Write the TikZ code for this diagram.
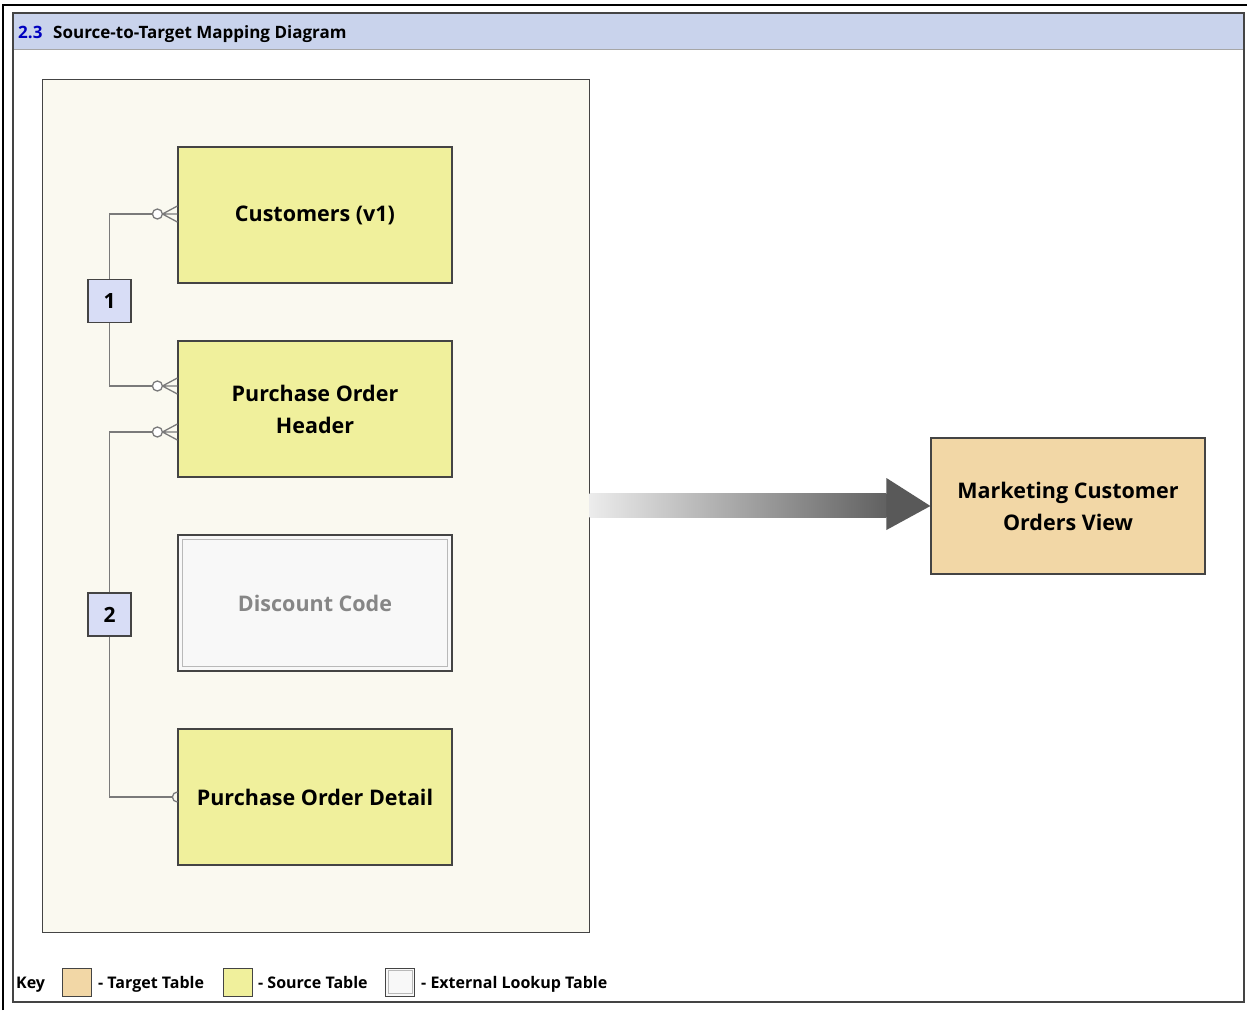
\documentclass[tikz,border=0pt]{standalone}
\usepackage{fontspec}
\setmainfont{Open Sans}
\usetikzlibrary{calc}
\definecolor{barblue}{HTML}{C9D3EC}
\definecolor{numblue}{HTML}{D8DDF6}
\definecolor{panelcream}{HTML}{FAF9F0}
\definecolor{srcyellow}{HTML}{F0F09C}
\definecolor{tgtwheat}{HTML}{F2D7A6}
\definecolor{lookupgray}{HTML}{F8F8F8}
\definecolor{linkgray}{HTML}{7A7A7A}
\definecolor{edgegray}{HTML}{444444}
\tikzset{
  table/.style={draw=edgegray, line width=1.2pt, minimum width=274pt, minimum height=136pt,
    align=center, font=\fontsize{21.5}{32}\selectfont\bfseries},
  src/.style={table, fill=srcyellow},
  tgt/.style={table, fill=tgtwheat},
  lookup/.style={table, fill=lookupgray, text=gray!95},
  numbox/.style={draw=edgegray, line width=1.2pt, fill=numblue, minimum size=43pt,
    font=\fontsize{21}{22}\selectfont\bfseries},
  link/.style={draw=linkgray, line width=1.3pt},
  keytext/.style={anchor=base west, inner sep=0pt, font=\fontsize{16}{17}\selectfont\bfseries},
  swatch/.style={draw=edgegray, line width=1pt, minimum width=29pt, minimum height=28pt, inner sep=0pt}
}
\begin{document}
\begin{tikzpicture}[x=1pt, y=-1pt]
\useasboundingbox (0,0) rectangle (1247,1010);
\fill[white] (0,0) rectangle (1247,1010);
% frame and title bar
\draw[black, line width=2pt] (3,1010) -- (3,5) -- (1247,5);
\filldraw[fill=barblue, draw=gray!70, line width=1pt] (13,13) rectangle (1244,49);
\draw[edgegray, line width=1.2pt] (13,13) rectangle (1244,1002);
\node[keytext, font=\fontsize{17}{18}\selectfont\bfseries, text=blue!75!black] (num) at (18,38.5) {2.3};
\node[keytext, font=\fontsize{17}{18}\selectfont\bfseries] (title) at (53,38.5) {Source-to-Target Mapping Diagram};
% source area
\node[draw=edgegray, line width=1pt, fill=panelcream, minimum width=547pt, minimum height=853pt] (area) at (315.5,505.5) {};
\node[src] (cust) at (315,215) {Customers (v1)};
\node[src] (poh) at (315,409) {Purchase Order\\Header};
\node[lookup] (disc) at (315,603) {Discount Code};
\draw[gray!55, line width=1pt] ([shift={(5pt,-5pt)}]disc.north west) rectangle ([shift={(-5pt,5pt)}]disc.south east);
\node[src] (pod) at (315,797) {Purchase Order Detail};
\node[numbox] (one) at (109.5,301) {1};
\node[numbox] (two) at (109.5,614.5) {2};
% joins
\coordinate (custjoin) at (cust.west |- 0,214);
\coordinate (pohjoina) at (poh.west |- 0,386);
\coordinate (pohjoinb) at (poh.west |- 0,432);
\coordinate (podjoin) at (pod.west |- 0,797);
\draw[link] (one.north) |- ([xshift=-25pt]custjoin);
\draw[link] (one.south) |- ([xshift=-25pt]pohjoina);
\draw[link] (two.north) |- ([xshift=-25pt]pohjoinb);
\draw[link] (two.south) |- ([xshift=-5pt]podjoin);
\foreach \j in {custjoin, pohjoina, pohjoinb}{
  \draw[link, fill=white] ([xshift=-20pt]\j) circle (5pt);
  \draw[link] ([xshift=-15pt]\j) -- (\j)
    ([xshift=-15pt]\j) -- ([yshift=8pt]\j)
    ([xshift=-15pt]\j) -- ([yshift=-8pt]\j);
}
\draw[link, fill=white] ([xshift=-5pt]podjoin) arc[start angle=180, end angle=90, radius=5pt]
  ([xshift=-5pt]podjoin) arc[start angle=180, end angle=270, radius=5pt];
\node[tgt] (mcov) at (1068,506) {Marketing Customer\\Orders View};
% mapping arrow
\shade[left color=gray!15, right color=black!62]
  ([yshift=12.5pt]area.east) rectangle ([xshift=-44pt, yshift=-11.5pt]mcov.west);
\fill[black!65]
  ([xshift=-44pt, yshift=28pt]mcov.west) -- (mcov.west)
  -- ([xshift=-44pt, yshift=-24pt]mcov.west) -- cycle;
% key
\node[keytext] (key) at (16,988) {Key};
\node[swatch, fill=tgtwheat] (keytgt) at (76.5,982) {};
\node[keytext] (keytgttext) at (98,988) {- Target Table};
\node[swatch, fill=srcyellow] (keysrc) at (237.5,982) {};
\node[keytext] (keysrctext) at (258,988) {- Source Table};
\node[swatch, fill=lookupgray] (keylkp) at (400,982) {};
\draw[gray!55, line width=0.8pt] ([shift={(3pt,-3pt)}]keylkp.north west) rectangle ([shift={(-3pt,3pt)}]keylkp.south east);
\node[keytext] (keylkptext) at (421,988) {- External Lookup Table};
\end{tikzpicture}
\end{document}
